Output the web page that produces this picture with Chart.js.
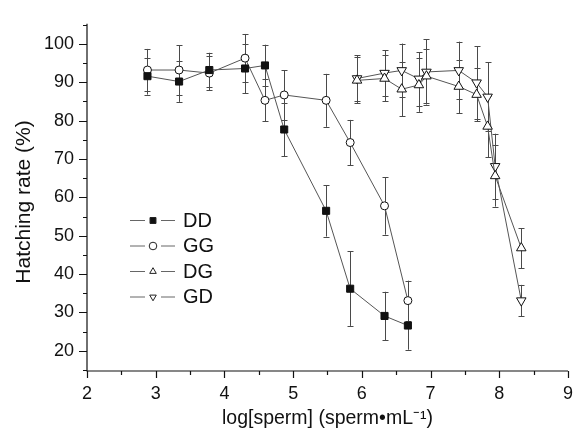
<!DOCTYPE html>
<html>
<head>
<meta charset="utf-8">
<script src="https://cdn.jsdelivr.net/npm/chart.js@4.4.1/dist/chart.umd.min.js"></script>
<style>
  html, body { margin: 0; padding: 0; background: #fff; }
  #wrap { width: 585px; height: 431px; position: relative; }
</style>
</head>
<body>
<div id="wrap"><canvas id="hatchChart"></canvas></div>
<script>
// log sperm concentrations (x) for the pure crosses and the hybrid crosses
const xPure = [2.88, 3.34, 3.78, 4.30, 4.59, 4.87, 5.48, 5.83, 6.33, 6.67];
const xHybrid = [5.93, 6.33, 6.58, 6.83, 6.94, 7.41, 7.67, 7.83, 7.94, 8.32];

// hatching rate (%) and error bar half-widths
const yDD = [91.6, 90.2, 93.2, 93.6, 94.4, 77.7, 56.5, 36.2, 29.1, 26.6];
const eDD = [4.8, 5.3, 4.5, 6.5, 5.4, 7.0, 6.7, 9.7, 6.3, 6.3];
const yGG = [93.2, 93.2, 92.4, 96.3, 85.3, 86.7, 85.3, 74.3, 57.8, 33.1];
const eGG = [5.5, 6.4, 4.5, 6.3, 5.5, 6.4, 6.9, 5.9, 7.5, 5.2];
const yDG = [90.5, 91.0, 88.2, 89.3, 91.6, 88.9, 86.8, 78.5, 65.6, 46.8];
const eDG = [6.0, 6.0, 7.0, 7.0, 7.0, 7.0, 7.0, 8.0, 8.0, 5.2];
const yGD = [91.0, 92.4, 93.1, 90.9, 92.7, 93.1, 89.9, 86.2, 68.1, 33.1];
const eGD = [6.0, 6.0, 7.0, 7.0, 8.5, 7.5, 9.5, 9.0, 8.5, 4.1];

const seriesNames = ["DD", "GG", "DG", "GD"];
const yTicks = [20, 30, 40, 50, 60, 70, 80, 90, 100];
const yTitle = "Hatching rate (%)";
const xTitle = "log[sperm] (sperm\u2022mL\u207B\u00B9)";

const FONT = "'Liberation Sans', Arial, Helvetica, sans-serif";

function pts(xs, ys) {
  return xs.map((x, i) => ({ x: x, y: ys[i] }));
}

function makeSet(label, xs, ys, errs, style, rotation, fill, radius) {
  return {
    label: label,
    data: pts(xs, ys),
    errors: errs,
    borderColor: "#555",
    borderWidth: 1,
    pointStyle: style,
    rotation: rotation,
    pointRadius: radius,
    pointBackgroundColor: fill,
    pointBorderColor: "#111",
    pointBorderWidth: 1,
    tension: 0,
  };
}

// error bars under the markers
const errorBars = {
  id: "errorBars",
  beforeDatasetsDraw(chart) {
    const ctx = chart.ctx;
    const ys = chart.scales.y;
    ctx.save();
    ctx.strokeStyle = "#4a4a4a";
    ctx.lineWidth = 1;
    chart.data.datasets.forEach((ds, i) => {
      const meta = chart.getDatasetMeta(i);
      meta.data.forEach((el, j) => {
        const v = ds.data[j].y;
        const e = ds.errors[j];
        const x = Math.round(el.x) + 0.5;
        const top = ys.getPixelForValue(v + e);
        const bot = ys.getPixelForValue(v - e);
        ctx.beginPath();
        ctx.moveTo(x, top);
        ctx.lineTo(x, bot);
        ctx.moveTo(x - 3, Math.round(top) + 0.5);
        ctx.lineTo(x + 3, Math.round(top) + 0.5);
        ctx.moveTo(x - 3, Math.round(bot) + 0.5);
        ctx.lineTo(x + 3, Math.round(bot) + 0.5);
        ctx.stroke();
      });
    });
    ctx.restore();
  },
};

// left and bottom axes with outward major and minor ticks, plus the y title
const axesPlugin = {
  id: "axesPlugin",
  afterDraw(chart) {
    const ctx = chart.ctx;
    const a = chart.chartArea;
    const xs = chart.scales.x;
    const ys = chart.scales.y;
    ctx.save();
    ctx.strokeStyle = "#111";
    ctx.lineWidth = 1.2;
    ctx.beginPath();
    ctx.moveTo(a.left, a.top);
    ctx.lineTo(a.left, a.bottom);
    ctx.lineTo(a.right, a.bottom);
    ctx.stroke();
    ctx.beginPath();
    for (let v = 15; v <= 105; v += 5) {
      const y = Math.round(ys.getPixelForValue(v)) + 0.5;
      const len = v % 10 === 0 ? 8 : 4;
      ctx.moveTo(a.left, y);
      ctx.lineTo(a.left - len, y);
    }
    for (let v = 2; v <= 9; v += 0.5) {
      const x = Math.round(xs.getPixelForValue(v)) + 0.5;
      const len = Number.isInteger(v) ? 7 : 4;
      ctx.moveTo(x, a.bottom);
      ctx.lineTo(x, a.bottom + len);
    }
    ctx.stroke();

    // y title sits a bit below the middle of the axis
    ctx.translate(24, 202);
    ctx.rotate(-Math.PI / 2);
    ctx.fillStyle = "#111";
    ctx.font = "21px " + FONT;
    ctx.textAlign = "center";
    ctx.textBaseline = "middle";
    ctx.fillText(yTitle, 0, 0);
    ctx.restore();
  },
};

// legend inside the plot area
const legendPlugin = {
  id: "legendPlugin",
  afterDraw(chart) {
    const ctx = chart.ctx;
    const rows = [220, 245.5, 271, 296.5];
    ctx.save();
    chart.data.datasets.forEach((ds, i) => {
      const y = rows[i];
      ctx.strokeStyle = "#666";
      ctx.lineWidth = 1;
      ctx.beginPath();
      ctx.moveTo(130, y + 0.5);
      ctx.lineTo(145, y + 0.5);
      ctx.moveTo(161, y + 0.5);
      ctx.lineTo(175, y + 0.5);
      ctx.stroke();
      ctx.fillStyle = ds.pointBackgroundColor;
      ctx.strokeStyle = "#222";
      Chart.helpers.drawPoint(ctx, {
        pointStyle: ds.pointStyle,
        rotation: ds.rotation,
        radius: ds.pointStyle === "rect" ? 4.2 : 3.8,
        borderWidth: 1,
      }, 153, y + 0.5);
      ctx.fillStyle = "#111";
      ctx.font = "20px " + FONT;
      ctx.textBaseline = "middle";
      ctx.textAlign = "left";
      ctx.fillText(seriesNames[i], 183, y + 1);
    });
    ctx.restore();
  },
};

const ctx = document.getElementById("hatchChart").getContext("2d");
new Chart(ctx, {
  type: "line",
  data: {
    datasets: [
      makeSet(seriesNames[0], xPure, yDD, eDD, "rect", 0, "#111", 5),
      makeSet(seriesNames[1], xPure, yGG, eGG, "circle", 0, "#fff", 4),
      makeSet(seriesNames[2], xHybrid, yDG, eDG, "triangle", 0, "#fff", 5.5),
      makeSet(seriesNames[3], xHybrid, yGD, eGD, "triangle", 180, "#fff", 5.5),
    ],
  },
  options: {
    responsive: true,
    maintainAspectRatio: false,
    animation: false,
    layout: { padding: { top: 8, right: 6, left: 0, bottom: 0 } },
    plugins: {
      legend: { display: false },
      tooltip: { enabled: false },
    },
    scales: {
      x: {
        type: "linear",
        min: 2,
        max: 9,
        ticks: { stepSize: 1, padding: 12, color: "#111", font: { family: FONT, size: 18 } },
        grid: { display: false, drawTicks: false },
        border: { display: false },
        title: {
          display: true,
          text: xTitle,
          color: "#111",
          font: { family: FONT, size: 19.5 },
          padding: { top: 0, bottom: 1 },
        },
        afterFit: (scale) => { scale.height = 60; },
      },
      y: {
        min: 14.75,
        max: 105.25,
        afterBuildTicks: (scale) => { scale.ticks = yTicks.map((v) => ({ value: v })); },
        ticks: { padding: 13, color: "#111", font: { family: FONT, size: 18 } },
        grid: { display: false, drawTicks: false },
        border: { display: false },
        afterFit: (scale) => { scale.width = 87; },
      },
    },
  },
  plugins: [errorBars, axesPlugin, legendPlugin],
});
</script>
</body>
</html>
